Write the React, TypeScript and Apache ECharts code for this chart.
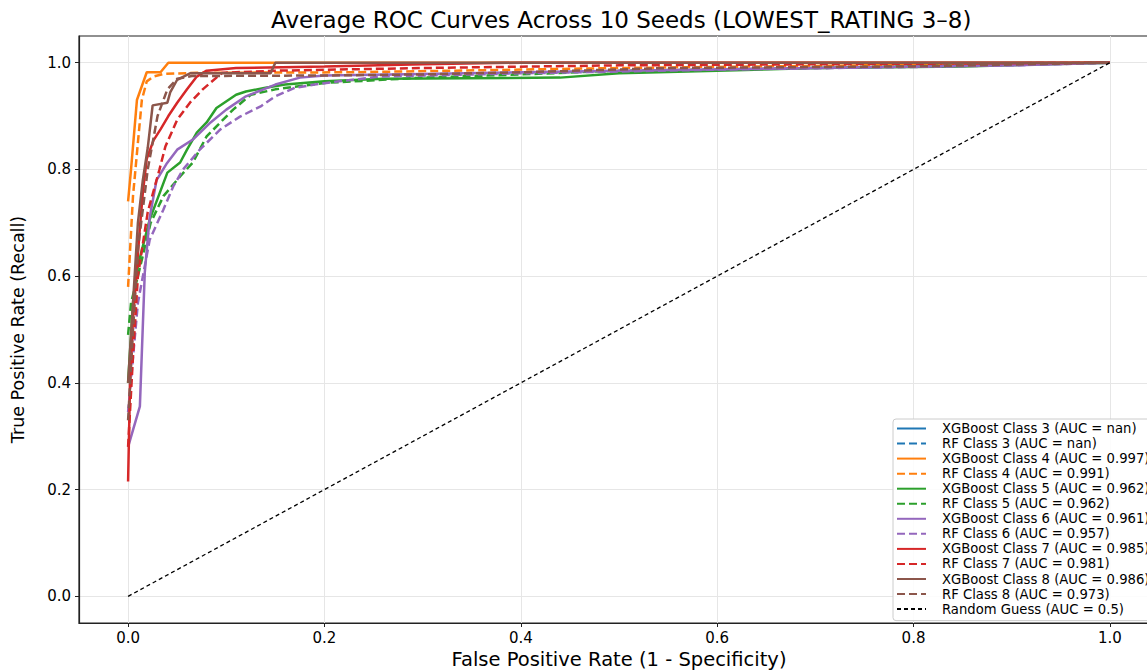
import React, { useEffect, useRef } from "react";
import * as echarts from "echarts";

const xTicks = [0, 0.2, 0.4, 0.6, 0.8, 1.0];
const yTicks = [0, 0.2, 0.4, 0.6, 0.8, 1.0];

const xgb3: number[][] = [];
const rf3: number[][] = [];
const xgb4 = [[0, 0.74], [0.003, 0.8], [0.009, 0.93], [0.019, 0.982], [0.033, 0.982], [0.041, 1.0], [1, 1]];
const rf4 = [[0, 0.58], [0.005, 0.75], [0.01, 0.85], [0.014, 0.93], [0.019, 0.965], [0.026, 0.974], [0.036, 0.979], [0.07, 0.981], [0.228, 0.982], [0.5, 0.99], [1, 1]];
const xgb5 = [[0, 0.4], [0.005, 0.55], [0.01, 0.62], [0.022, 0.706], [0.04, 0.794], [0.053, 0.813], [0.06, 0.837], [0.07, 0.869], [0.08, 0.888], [0.09, 0.915], [0.11, 0.94], [0.12, 0.946], [0.14, 0.953], [0.16, 0.959], [0.2, 0.965], [0.26, 0.97], [0.44, 0.972], [0.5, 0.98], [0.6, 0.985], [0.7, 0.99], [0.85, 0.993], [1, 1]];
const rf5 = [[0, 0.49], [0.003, 0.55], [0.01, 0.6], [0.023, 0.7], [0.036, 0.75], [0.053, 0.787], [0.066, 0.813], [0.08, 0.862], [0.094, 0.888], [0.107, 0.912], [0.125, 0.94], [0.15, 0.95], [0.2, 0.962], [0.3, 0.972], [0.4, 0.978], [0.5, 0.985], [0.7, 0.99], [1, 1]];
const xgb6 = [[0, 0.28], [0.012, 0.356], [0.017, 0.607], [0.02, 0.67], [0.022, 0.71], [0.029, 0.78], [0.039, 0.81], [0.05, 0.837], [0.066, 0.856], [0.084, 0.888], [0.1, 0.912], [0.12, 0.937], [0.15, 0.959], [0.175, 0.972], [0.2, 0.976], [0.3, 0.979], [0.5, 0.985], [0.7, 0.99], [0.9, 0.995], [1, 1]];
const rf6 = [[0, 0.345], [0.01, 0.55], [0.022, 0.668], [0.036, 0.725], [0.046, 0.768], [0.056, 0.8], [0.073, 0.837], [0.094, 0.875], [0.114, 0.899], [0.135, 0.918], [0.15, 0.937], [0.17, 0.953], [0.19, 0.959], [0.215, 0.965], [0.257, 0.974], [0.4, 0.98], [0.6, 0.987], [0.8, 0.992], [0.9, 0.995], [1, 1]];
const xgb7 = [[0, 0.215], [0.002, 0.4], [0.005, 0.52], [0.012, 0.69], [0.015, 0.756], [0.019, 0.82], [0.026, 0.855], [0.033, 0.875], [0.041, 0.9], [0.05, 0.925], [0.06, 0.95], [0.07, 0.974], [0.08, 0.985], [0.11, 0.99], [0.2, 0.993], [0.3, 0.997], [0.4, 1.0], [1, 1]];
const rf7 = [[0, 0.28], [0.005, 0.45], [0.01, 0.6], [0.02, 0.72], [0.032, 0.8], [0.038, 0.843], [0.05, 0.893], [0.063, 0.925], [0.076, 0.95], [0.09, 0.972], [0.096, 0.981], [0.15, 0.985], [0.3, 0.99], [0.5, 0.995], [1, 1]];
const xgb8 = [[0, 0.4], [0.005, 0.55], [0.01, 0.7], [0.015, 0.78], [0.02, 0.84], [0.025, 0.92], [0.04, 0.925], [0.043, 0.945], [0.05, 0.968], [0.063, 0.98], [0.145, 0.98], [0.15, 1.0], [1, 1]];
const rf8 = [[0, 0.33], [0.005, 0.5], [0.01, 0.65], [0.02, 0.8], [0.03, 0.9], [0.04, 0.95], [0.05, 0.97], [0.065, 0.975], [0.2, 0.976], [0.3, 0.978], [0.4, 0.982], [0.55, 0.99], [0.8, 0.993], [1, 1]];
const randomGuess = [[0, 0], [1, 1]];

const curves = [
  { name: "XGBoost Class 3 (AUC = nan)", data: xgb3, color: "#1f77b4", dashed: false },
  { name: "RF Class 3 (AUC = nan)", data: rf3, color: "#1f77b4", dashed: true },
  { name: "XGBoost Class 4 (AUC = 0.997)", data: xgb4, color: "#ff7f0e", dashed: false },
  { name: "RF Class 4 (AUC = 0.991)", data: rf4, color: "#ff7f0e", dashed: true },
  { name: "XGBoost Class 5 (AUC = 0.962)", data: xgb5, color: "#2ca02c", dashed: false },
  { name: "RF Class 5 (AUC = 0.962)", data: rf5, color: "#2ca02c", dashed: true },
  { name: "XGBoost Class 6 (AUC = 0.961)", data: xgb6, color: "#9467bd", dashed: false },
  { name: "RF Class 6 (AUC = 0.957)", data: rf6, color: "#9467bd", dashed: true },
  { name: "XGBoost Class 7 (AUC = 0.985)", data: xgb7, color: "#d62728", dashed: false },
  { name: "RF Class 7 (AUC = 0.981)", data: rf7, color: "#d62728", dashed: true },
  { name: "XGBoost Class 8 (AUC = 0.986)", data: xgb8, color: "#8c564b", dashed: false },
  { name: "RF Class 8 (AUC = 0.973)", data: rf8, color: "#8c564b", dashed: true },
];

const FONT = "DejaVu Sans";

export default function App() {
  const ref = useRef<HTMLDivElement>(null);
  useEffect(() => {
    document.body.style.margin = "0";
    const chart = echarts.init(ref.current!, null, { renderer: "svg" });
    const series: any[] = curves.map((c, i) => ({
      name: c.name,
      type: "line",
      data: c.data,
      showSymbol: false,
      symbol: "none",
      z: 2 + i,
      lineStyle: { color: c.color, width: 2.5, type: c.dashed ? [8, 4] : "solid" },
      itemStyle: { color: c.color },
    }));
    series.push({
      name: "Random Guess (AUC = 0.5)",
      type: "line",
      data: randomGuess,
      showSymbol: false,
      symbol: "none",
      z: 20,
      lineStyle: { color: "#000", width: 1.3, type: [4, 3] },
      itemStyle: { color: "#000" },
    });
    chart.setOption({
      animation: false,
      backgroundColor: "#fff",
      title: {
        text: "Average ROC Curves Across 10 Seeds (LOWEST_RATING 3–8)",
        left: 266,
        top: 3,
        textStyle: { fontFamily: FONT, fontSize: 23, fontWeight: "normal", color: "#000" },
      },
      grid: {
        left: 79,
        top: 36,
        width: 1080,
        height: 587,
        outerBoundsMode: "none",
        containLabel: false,
        show: true,
        borderColor: "#222",
        borderWidth: 1.2,
        backgroundColor: "transparent",
      },
      xAxis: {
        type: "value",
        min: -0.05,
        max: 1.05,
        name: "False Positive Rate (1 - Specificity)",
        nameLocation: "middle",
        nameGap: 25,
        nameTextStyle: { fontFamily: FONT, fontSize: 19.5, color: "#000" },
        axisLine: { show: true, onZero: false, lineStyle: { color: "#222", width: 1.2 } },
        axisTick: { show: true, length: 4, customValues: xTicks, lineStyle: { color: "#222" } },
        axisLabel: {
          customValues: xTicks,
          formatter: (v: number) => v.toFixed(1),
          fontFamily: FONT,
          fontSize: 15,
          color: "#000",
          margin: 7,
        },
        splitLine: { show: true, lineStyle: { color: "#e6e6e6", width: 1 } },
      },
      yAxis: {
        type: "value",
        min: -0.05,
        max: 1.05,
        name: "True Positive Rate (Recall)",
        nameLocation: "middle",
        nameGap: 52,
        nameRotate: 90,
        nameTextStyle: { fontFamily: FONT, fontSize: 17.5, color: "#000" },
        axisLine: { show: true, onZero: false, lineStyle: { color: "#222", width: 1.2 } },
        axisTick: { show: true, length: 4, customValues: yTicks, lineStyle: { color: "#222" } },
        axisLabel: {
          customValues: yTicks,
          formatter: (v: number) => v.toFixed(1),
          fontFamily: FONT,
          fontSize: 15,
          color: "#000",
          margin: 8,
        },
        splitLine: { show: true, lineStyle: { color: "#e6e6e6", width: 1 } },
      },
      legend: {
        orient: "vertical",
        left: 893,
        top: 419,
        padding: [3, 8, 5, 3],
        itemWidth: 29,
        itemHeight: 10,
        itemGap: 2.05,
        itemStyle: { opacity: 0 },
        backgroundColor: "rgba(255,255,255,0.85)",
        borderColor: "#cccccc",
        borderWidth: 1,
        borderRadius: 3,
        textStyle: {
          fontFamily: FONT,
          fontSize: 13.2,
          color: "#000",
          padding: [0, 0, 0, 11],
        },
        data: [...curves.map((c) => c.name), "Random Guess (AUC = 0.5)"],
      },
      series,
    });
    return () => chart.dispose();
  }, []);
  return <div ref={ref} style={{ width: 1147, height: 670 }} />;
}
